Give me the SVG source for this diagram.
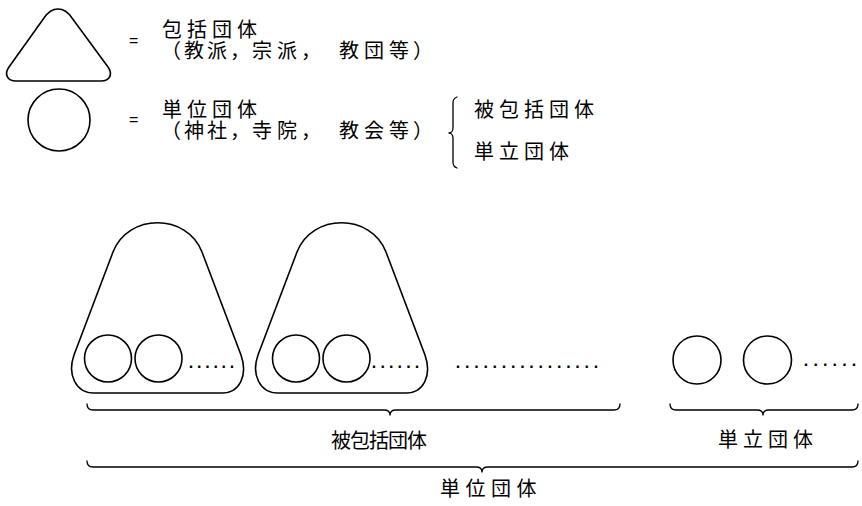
<svg xmlns="http://www.w3.org/2000/svg" width="862" height="506" viewBox="0 0 862 506">
<style>
.s{fill:none;stroke:#000;stroke-width:1.6;stroke-linejoin:round;stroke-linecap:round}
.b{fill:none;stroke:#000;stroke-width:1.3;stroke-linejoin:round;stroke-linecap:round}
.t{font-family:"Noto Sans CJK JP","Noto Sans CJK SC",sans-serif;font-size:20px;fill:#000}
.e{font-family:"Liberation Sans",sans-serif;font-size:16px;fill:#000}
.d{font-family:"Liberation Sans",sans-serif;font-size:16px;font-weight:bold;fill:#000}
</style>
<rect width="862" height="506" fill="#fff"/>
<g id="legend-inclusive">
<path class="s" d="M44,18 C52,6 64,6 72,18 L108,67 C113,74 110,81 101,81 L16,81 C7,81 4,74 9,67 Z"/>
<text class="e" x="129" y="46">=</text>
<text class="t" x="162" y="37" letter-spacing="5">包括団体</text>
<text class="t" x="161 184 207 230" y="58">（教派，</text>
<text class="t" x="252 277 301" y="58">宗派，</text>
<text class="t" x="339 364 389 413" y="58">教団等）</text>
</g>
<g id="legend-unit">
<circle class="s" cx="59" cy="120" r="31"/>
<text class="e" x="129" y="125">=</text>
<text class="t" x="162" y="117" letter-spacing="5">単位団体</text>
<text class="t" x="161 184 207 230" y="138">（神社，</text>
<text class="t" x="252 277 301" y="138">寺院，</text>
<text class="t" x="339 364 389 413" y="138">教会等）</text>
</g>
<g id="legend-kinds">
<path class="b" d="M457,97 C454,98 453,100 453,103 L453,128 C453,131 451,133 449,133 C451,133 453,135 453,138 L453,162 C453,165 454,167 457,168"/>
<text class="t" x="474" y="117" letter-spacing="5">被包括団体</text>
<text class="t" x="474" y="159" letter-spacing="5">単立団体</text>
</g>
<g id="group1">
<path class="s" d="M113,252 C128,213 187,213 202,252 L241,355 C248,375 240,393 222,393 L94,393 C76,393 67,375 74,355 Z"/>
<circle class="s" cx="108" cy="358.5" r="23.5"/>
<circle class="s" cx="158.5" cy="358.5" r="23.5"/>
<text class="d" x="188.8" y="368" letter-spacing="3.75">......</text>
</g>
<g id="group2">
<path class="s" d="M297,252 C312,213 371,213 386,252 L425,355 C432,375 424,393 406,393 L278,393 C260,393 251,375 258,355 Z"/>
<circle class="s" cx="296" cy="358.5" r="23.5"/>
<circle class="s" cx="346.5" cy="358.5" r="23.5"/>
<text class="d" x="371.8" y="368" letter-spacing="4.15">......</text>
</g>
<g id="more-groups">
<text class="d" x="455.8" y="368" letter-spacing="4.75">................</text>
</g>
<g id="independent">
<circle class="s" cx="697" cy="360" r="24"/>
<circle class="s" cx="767.5" cy="360" r="24"/>
<text class="d" x="803.8" y="366" letter-spacing="5.15">......</text>
</g>
<g id="connectors">
<path class="b" d="M87,404 C87,408 89,410 93,410 L384,410 C388,410 390,412 390,415 C390,412 392,410 396,410 L614,410 C618,410 620,408 620,404"/>
<path class="b" d="M670,404 C670,408 672,410 676,410 L757,410 C761,410 763,412 763,415 C763,412 765,410 769,410 L852,410 C856,410 858,408 858,404"/>
<path class="b" d="M87,461 C87,465 89,467 93,467 L476,467 C480,467 482,469 482,472 C482,469 484,467 488,467 L852,467 C856,467 858,465 858,461"/>
</g>
<g id="labels">
<text class="t" x="331" y="448" letter-spacing="-1">被包括団体</text>
<text class="t" x="718" y="447" letter-spacing="5">単立団体</text>
<text class="t" x="440" y="496" letter-spacing="5.5">単位団体</text>
</g>
</svg>
